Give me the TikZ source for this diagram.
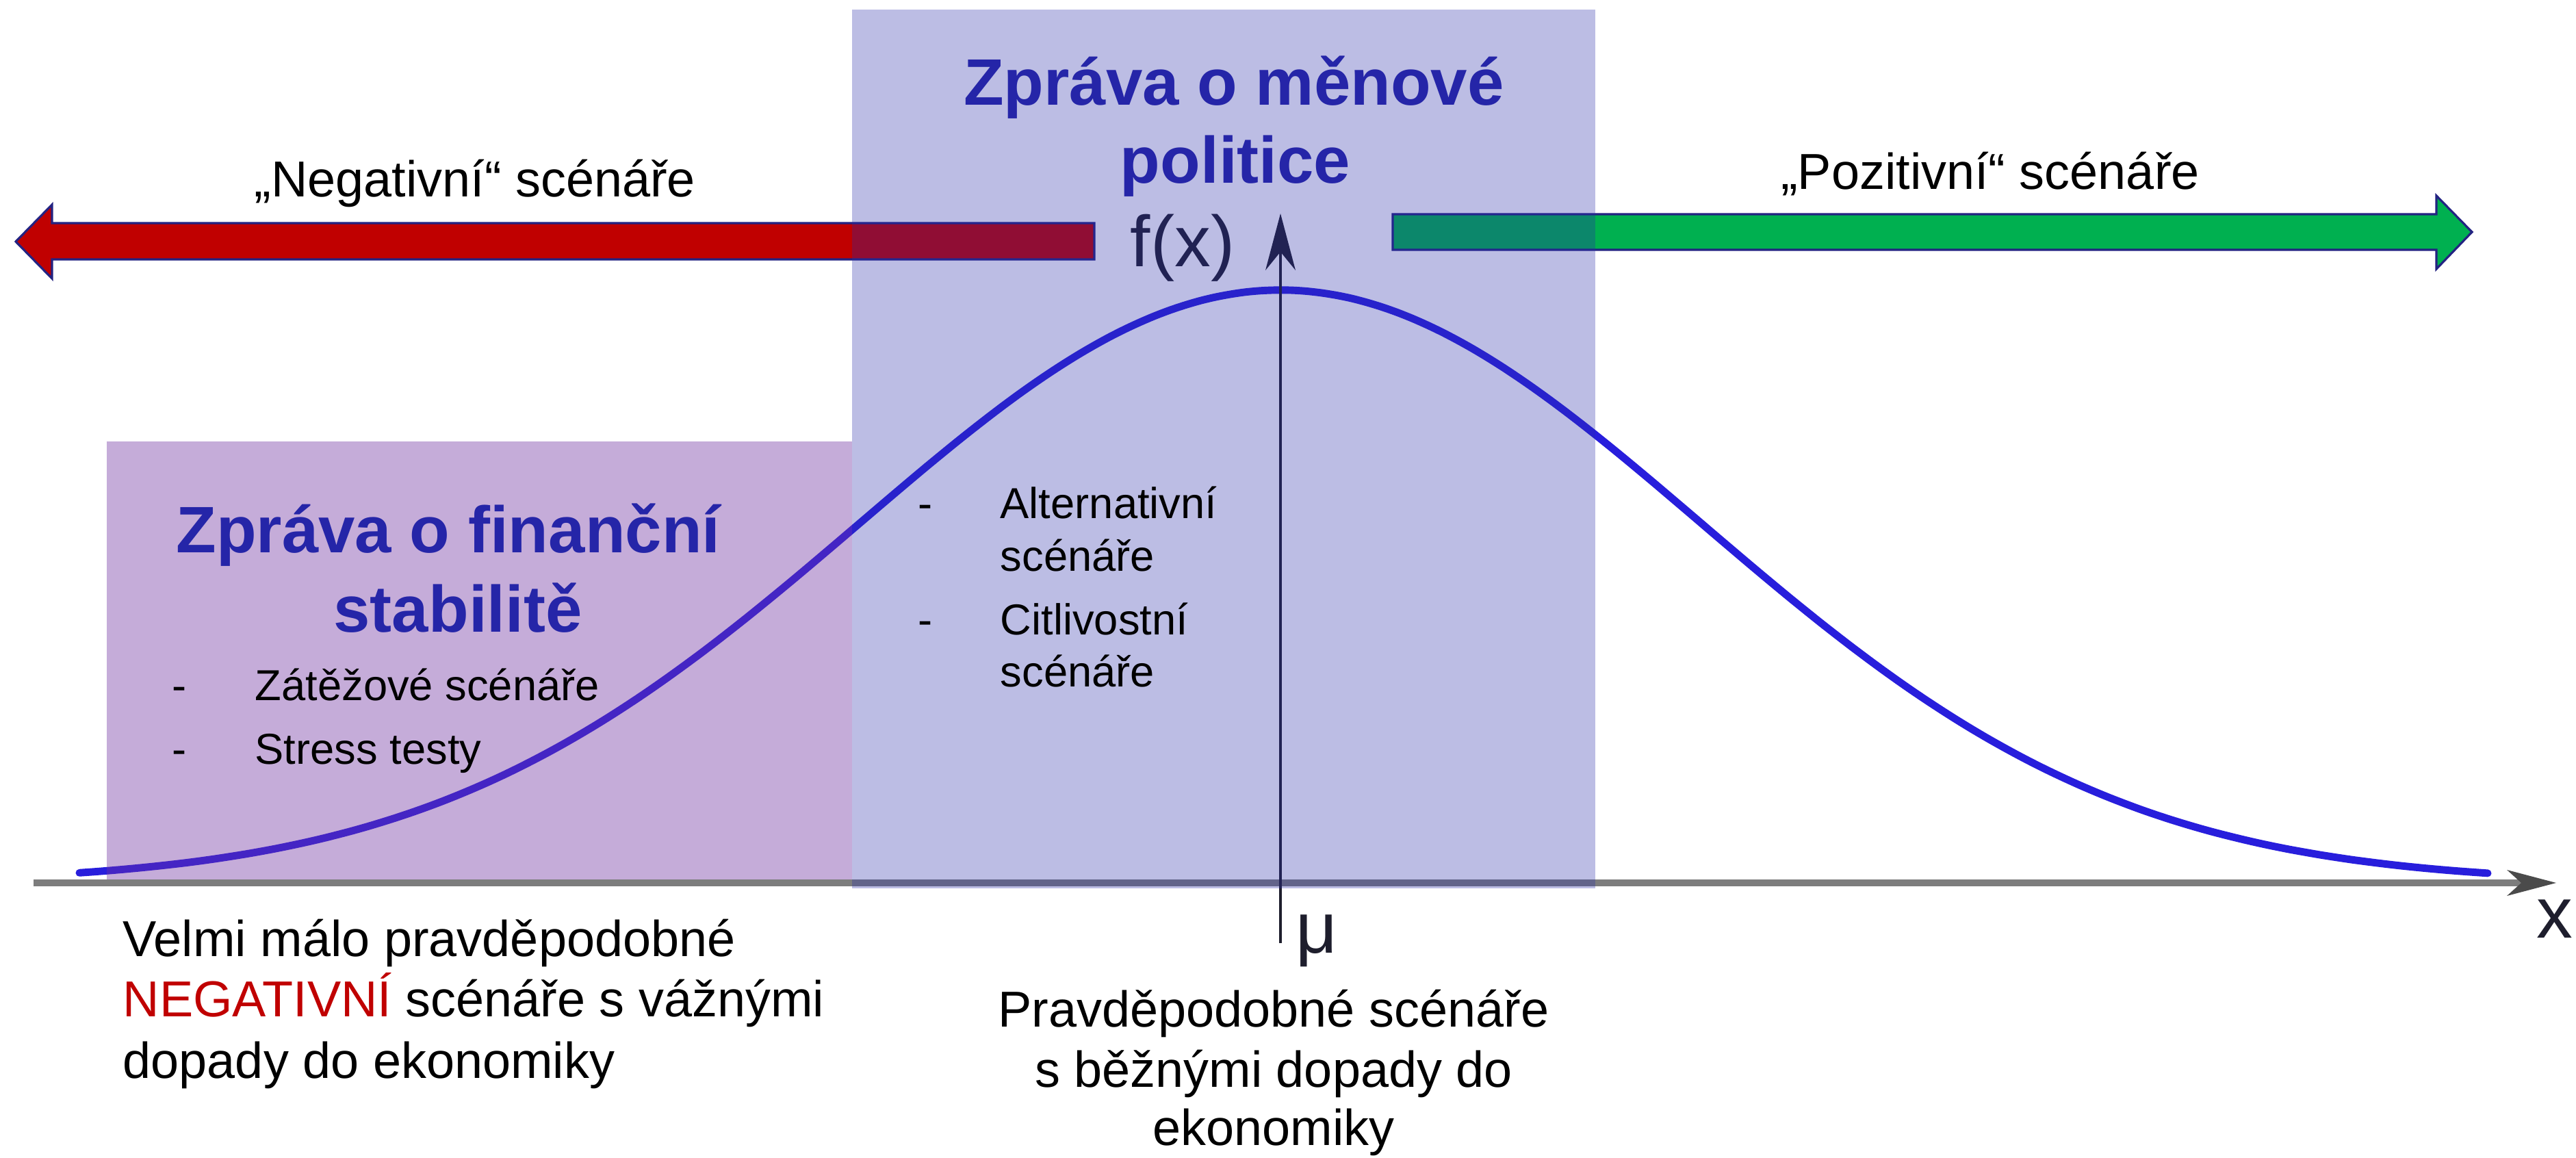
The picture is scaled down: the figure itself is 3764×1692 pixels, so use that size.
\documentclass[tikz,border=0pt]{standalone}
\usepackage{fontspec}
\setmainfont{Liberation Sans}
\definecolor{boxblue}{RGB}{40,45,170}
\definecolor{boxpurple}{RGB}{112,48,160}
\definecolor{arrred}{RGB}{192,0,0}
\definecolor{arrgreen}{RGB}{0,176,80}
\definecolor{arrborder}{RGB}{35,35,130}
\definecolor{titleblue}{RGB}{37,37,168}
\definecolor{curveblue}{RGB}{40,30,220}
\definecolor{axisgray}{RGB}{125,125,125}
\definecolor{graphink}{RGB}{30,30,45}
\definecolor{negred}{RGB}{192,0,0}
\begin{document}
\begin{tikzpicture}[x=0.01cm,y=-0.01cm,
  txt/.style={inner sep=0pt, anchor=base},
  body/.style={txt, font=\fontsize{21}{25}\selectfont},
  bodyleft/.style={body, anchor=base west},
  titletxt/.style={txt, font=\fontsize{27.3}{33}\selectfont\bfseries, text=titleblue},
  bullettxt/.style={txt, anchor=base west, font=\fontsize{18}{22}\selectfont},
  dashtxt/.style={txt, font=\fontsize{18}{22}\selectfont},
  graphlbl/.style={txt, font=\fontsize{30}{36}\selectfont, text=graphink},
  curve/.style={draw=curveblue, line width=3.1pt, line cap=round},
  xaxis/.style={draw=axisgray, line width=2.9pt},
  yaxis/.style={draw=graphink, line width=1.3pt},
  bigarrow/.style={draw=arrborder, line width=0.9pt, line join=miter}
]
\useasboundingbox (0,0) rectangle (3764,1692);
\fill[white] (0,0) rectangle (3764,1692);

% ---- graph ----
\coordinate (xstart) at (49,1290);
\coordinate (xend) at (3690,1290);
\coordinate (xtip) at (3735,1290);
\coordinate (ytop) at (1871,360);
\coordinate (ytip) at (1871,312);
\coordinate (ybottom) at (1871,1378);

\draw[curve] plot[domain=116:3635, samples=160, smooth] (\x, {1290-866*exp(-0.5*((\x-1871)/615)^2)});
\draw[xaxis] (xstart) -- (xend);
\fill[axisgray!60!black] (xtip) -- (3663,1271) -- (3684,1290) -- (3663,1309) -- cycle;
\draw[yaxis] (ybottom) -- (ytop);
\fill[graphink] (ytip) -- (1849,395) -- (1871,368) -- (1893,395) -- cycle;

\node[graphlbl] (fx) at (1728,390) {f(x)};
\node[graphlbl] (mu) at (1924,1392) {μ};
\node[graphlbl, anchor=base west] (xl) at (3706,1370) {x};

% ---- purple box ----
\fill[boxpurple, fill opacity=0.4] (156,645) rectangle (1245,1285);

% ---- big arrows ----
\filldraw[bigarrow, fill=arrred] (23,353) -- (76,299) -- (76,326) -- (1599,326) -- (1599,379) -- (76,379) -- (76,407) -- cycle;
\filldraw[bigarrow, fill=arrgreen] (3612,339) -- (3560,286) -- (3560,313) -- (2035,313) -- (2035,365) -- (3560,365) -- (3560,393) -- cycle;

% ---- blue box ----
\fill[boxblue, fill opacity=0.31] (1245,14) rectangle (2331,1298);

% ---- texts ----
\node[body] (neg) at (694,288) {„Negativní“ scénáře};
\node[body] (pos) at (2908,277) {„Pozitivní“ scénáře};

\node[titletxt] (mp1) at (1803,154) {Zpráva o měnové};
\node[titletxt] (mp2) at (1805,268) {politice};

\node[titletxt] (fs1) at (655,808) {Zpráva o finanční};
\node[titletxt] (fs2) at (669,923) {stabilitě};

\node[dashtxt] (d1) at (262,1023) {-};
\node[bullettxt] (b1) at (372,1023) {Zátěžové scénáře};
\node[dashtxt] (d2) at (262,1116) {-};
\node[bullettxt] (b2) at (372,1116) {Stress testy};

\node[dashtxt] (d3) at (1352,758) {-};
\node[bullettxt] (b3a) at (1461,758) {Alternativní};
\node[bullettxt] (b3b) at (1461,835) {scénáře};
\node[dashtxt] (d4) at (1352,928) {-};
\node[bullettxt] (b4a) at (1461,928) {Citlivostní};
\node[bullettxt] (b4b) at (1461,1003) {scénáře};

\node[bodyleft] (l1) at (179,1397) {Velmi málo pravděpodobné};
\node[bodyleft] (l2) at (179,1485) {\textcolor{negred}{NEGATIVNÍ} scénáře s vážnými};
\node[bodyleft] (l3) at (179,1575) {dopady do ekonomiky};

\node[body] (c1) at (1861,1500) {Pravděpodobné scénáře};
\node[body] (c2) at (1861,1588) {s běžnými dopady do};
\node[body] (c3) at (1861,1673) {ekonomiky};
\end{tikzpicture}
\end{document}
